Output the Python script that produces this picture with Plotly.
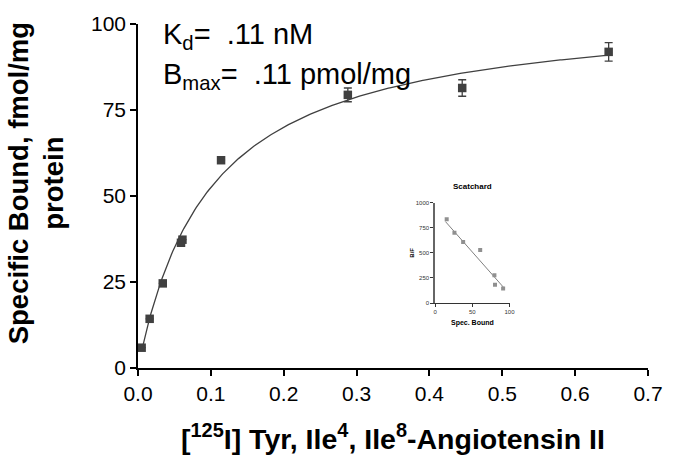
import numpy as np
import plotly.graph_objects as go

# Saturation binding data
conc = [0.005, 0.016, 0.034, 0.059, 0.061, 0.114, 0.288, 0.445, 0.646]
bound = [5.9, 14.3, 24.6, 36.4, 37.3, 60.4, 79.4, 81.4, 91.9]
bound_err = [0, 0, 0, 0, 0, 0, 2.0, 2.4, 2.7]

# fitted one-site hyperbola parameters (as drawn)
fit_kd = 0.10
fit_bmax = 105.0

# Scatchard inset data
sc_bound = [15.6, 26.0, 37.7, 60.6, 79.7, 80.5, 91.4]
sc_bf = [835, 700, 608, 528, 277, 182, 146]
sc_line_x = [13.9, 91.8]
sc_line_y = [812, 158]

x_ticks = [0.0, 0.1, 0.2, 0.3, 0.4, 0.5, 0.6, 0.7]
y_ticks = [0, 25, 50, 75, 100]

FONT = "Liberation Sans, Arial, sans-serif"
DARK = "#404040"

fx = np.linspace(min(conc), max(conc), 300)
fy = fit_bmax * fx / (fit_kd + fx)

fig = go.Figure()
fig.add_trace(go.Scatter(x=fx, y=fy, mode="lines",
                         line=dict(color=DARK, width=1.3), hoverinfo="skip"))
fig.add_trace(go.Scatter(x=conc, y=bound, mode="markers",
                         marker=dict(symbol="square", size=8.5, color=DARK),
                         error_y=dict(type="data", array=bound_err, visible=True,
                                      color=DARK, thickness=1.3, width=4)))

# inset
fig.add_trace(go.Scatter(x=sc_line_x, y=sc_line_y, mode="lines",
                         line=dict(color="#808080", width=1), xaxis="x2", yaxis="y2"))
fig.add_trace(go.Scatter(x=sc_bound, y=sc_bf, mode="markers",
                         marker=dict(symbol="square", size=4, color="#909090"),
                         xaxis="x2", yaxis="y2"))

axis_common = dict(showgrid=False, zeroline=False, showline=True, linecolor="black",
                   linewidth=1.5, ticks="outside", ticklen=6, tickwidth=1.5,
                   tickcolor="black", tickfont=dict(size=21, color="black", family=FONT))

fig.update_layout(
    width=675, height=460,
    margin=dict(l=138, r=13, t=22, b=92),
    paper_bgcolor="white", plot_bgcolor="white",
    showlegend=False,
    font=dict(family=FONT, color="black"),
    xaxis=dict(range=[0, 0.7], tickvals=x_ticks,
               ticktext=[f"{v:.1f}" for v in x_ticks], **axis_common),
    yaxis=dict(range=[0, 100], tickvals=y_ticks, **axis_common),
    xaxis2=dict(domain=[0.5825, 0.7285], anchor="y2", range=[0, 100],
                tickvals=[0, 50, 100], showgrid=False, zeroline=False,
                showline=True, linecolor="#333333", linewidth=1, ticks="outside",
                ticklen=3, tickcolor="#333333",
                tickfont=dict(size=6, color="#333333", family=FONT)),
    yaxis2=dict(domain=[0.1887, 0.4806], anchor="x2", range=[0, 1000],
                tickvals=[0, 250, 500, 750, 1000], showgrid=False, zeroline=False,
                showline=True, linecolor="#666666", linewidth=1.5, ticks="outside",
                ticklen=3, tickcolor="#333333",
                tickfont=dict(size=6, color="#333333", family=FONT)),
)

ann = [
    # main axis titles
    dict(text="<b>[<sup>125</sup>I] Tyr, Ile<sup>4</sup>, Ile<sup>8</sup>-Angiotensin II</b>",
         xref="paper", yref="paper", x=0.5, y=-0.2, xanchor="center", yanchor="middle",
         showarrow=False, font=dict(size=28.5, color="black", family=FONT)),
    dict(text="<b>Specific Bound, fmol/mg<br>protein</b>",
         xref="paper", yref="paper", x=-0.2, y=0.537, xanchor="center", yanchor="middle",
         textangle=-90, showarrow=False, font=dict(size=27.5, color="black", family=FONT)),
    # fit parameters
    dict(text="K<sub>d</sub>=  .11 nM", xref="paper", yref="paper", x=0.046, y=0.965,
         xanchor="left", yanchor="middle", showarrow=False,
         font=dict(size=29, color="black", family=FONT)),
    dict(text="B<sub>max</sub>=  .11 pmol/mg", xref="paper", yref="paper", x=0.046, y=0.85,
         xanchor="left", yanchor="middle", showarrow=False,
         font=dict(size=29, color="black", family=FONT)),
    # inset labels
    dict(text="<b>Scatchard</b>", xref="paper", yref="paper", x=0.655, y=0.528,
         xanchor="center", yanchor="middle", showarrow=False,
         font=dict(size=8, color="black", family=FONT)),
    dict(text="<b>B/F</b>", xref="paper", yref="paper", x=0.537, y=0.335,
         xanchor="center", yanchor="middle", textangle=-90, showarrow=False,
         font=dict(size=6, color="black", family=FONT)),
    dict(text="<b>Spec. Bound</b>", xref="paper", yref="paper", x=0.655, y=0.13,
         xanchor="center", yanchor="middle", showarrow=False,
         font=dict(size=7, color="black", family=FONT)),
]
fig.update_layout(annotations=ann)

fig.write_html("out.html", config={"displayModeBar": False},
               post_script="document.body.style.margin='0';")
